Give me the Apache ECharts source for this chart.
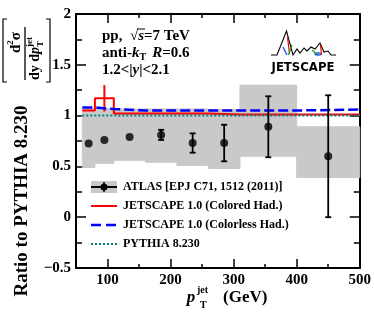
<!DOCTYPE html>
<html><head><meta charset="utf-8">
<script src="https://cdn.jsdelivr.net/npm/echarts@6/dist/echarts.min.js"></script>
<style>html,body{margin:0;padding:0;background:#fff}#c{width:374px;height:318px}</style>
</head><body><div id="c"></div>
<script>
// ---- data ----
const binLo = [60, 80, 110, 160, 210, 260, 310, 400];
const binHi = [80, 110, 160, 210, 260, 310, 400, 500];
const atlasX = [70, 95, 135, 185, 235, 285, 355, 450];
const atlasY = [0.725, 0.76, 0.79, 0.81, 0.73, 0.73, 0.89, 0.60];
const atlasStat = [0, 0, 0, 0.05, 0.095, 0.18, 0.30, 0.60];
const atlasSysLo = [0.49, 0.53, 0.56, 0.54, 0.51, 0.48, 0.60, 0.39];
const atlasSysHi = [1.07, 1.07, 1.065, 1.065, 1.065, 1.06, 1.30, 0.89];
const coloredY = [1.05, 1.17, 1.02, 1.02, 1.02, 1.01, 1.01, 1.01];
const coloredErr = [0, 0.13, 0, 0, 0, 0, 0, 0];
const colorlessY = [1.08, 1.065, 1.05, 1.05, 1.05, 1.05, 1.05, 1.06];
const pythiaY = [1, 1, 1, 1, 1, 1, 1, 1];
const xMajorTicks = [100, 200, 300, 400, 500];
const xMinorTicks = [50, 150, 250, 350, 450];
const legendLabels = ['ATLAS [EPJ C71, 1512 (2011)]', 'JETSCAPE 1.0 (Colored Had.)', 'JETSCAPE 1.0 (Colorless Had.)', 'PYTHIA 8.230'];

// ---- helpers ----
const SERIF = '"Liberation Serif", "Times New Roman", serif';
const B = s => 'bold ' + s + 'px ' + SERIF;
const BI = s => 'italic bold ' + s + 'px ' + SERIF;
const cv = document.createElement('canvas').getContext('2d');
function mw(t, f) { cv.font = f; return cv.measureText(t).width; }
function run(x, y, parts, out) {
  let cx = x;
  parts.forEach(p => {
    out.push({type: 'text', x: cx, y: y + (p.dy || 0), z: 50,
      style: {text: p.t, font: p.f, fill: '#000', textAlign: 'left', textVerticalAlign: 'middle'}});
    cx += mw(p.t, p.f) + (p.sp || 0);
  });
  return cx;
}
// vertical run (text reading bottom-to-top), starting at screen y0 going up
function vrun(x, y0, parts, out) {
  let cy = y0;
  parts.forEach(p => {
    const w = mw(p.t, p.f);
    out.push({type: 'text', x: x + (p.dx || 0), y: cy - w / 2, rotation: Math.PI / 2, z: 50,
      style: {text: p.t, font: p.f, fill: '#000', textAlign: 'center', textVerticalAlign: 'middle'}});
    if (!p.noAdv) cy -= w + (p.sp || 0);
  });
  return cy;
}
function stepData(ys) {
  const d = binLo.map((x, i) => [x, ys[i]]);
  d.push([binHi[binHi.length - 1], ys[ys.length - 1]]);
  return d;
}
function rtext(x, y, t, f) {
  return {type: 'text', x: x, y: y, rotation: Math.PI / 2, z: 50,
    style: {text: t, font: f, fill: '#000', textAlign: 'center', textVerticalAlign: 'middle'}};
}

const g = [];
// top-left annotation
let xe = run(102, 36, [{t: 'pp,  ', f: B(15)}, {t: '\u221A', f: B(15)}], g);
const sStart = xe;
xe = run(xe, 36, [{t: 's', f: BI(15)}], g);
g.push({type: 'line', z: 50, shape: {x1: sStart - 1, y1: 29, x2: xe + 1, y2: 29}, style: {stroke: '#000', lineWidth: 1}});
run(xe, 36, [{t: '=7 TeV', f: B(15)}], g);
run(102, 53, [{t: 'anti-', f: B(15)}, {t: 'k', f: BI(15)}, {t: 'T', f: B(10), dy: 4, sp: 6}, {t: 'R', f: BI(15)}, {t: '=0.6', f: B(15)}], g);
run(102, 70, [{t: '1.2<|', f: B(15)}, {t: 'y', f: BI(15)}, {t: '|<2.1', f: B(15)}], g);

// y-axis title
g.push(rtext(22, 201, 'Ratio to PYTHIA 8.230', B(19)));
// bracket fraction: numerator
vrun(16, 53, [{t: 'd', f: B(15)}, {t: '2', f: B(9), dx: -5}, {t: '\u03C3', f: B(15)}], g);
g.push({type: 'line', z: 50, shape: {x1: 25, y1: 27, x2: 25, y2: 80}, style: {stroke: '#000', lineWidth: 1.3}});
// denominator
vrun(35, 80, [{t: 'dy', f: B(14), sp: 3.5}, {t: 'd', f: B(14)}, {t: 'p', f: BI(14)}, {t: 'T', f: B(9), dx: 6, noAdv: true}, {t: 'jet', f: B(9), dx: -5}], g);
g.push({type: 'polyline', z: 50, shape: {points: [[7, 82], [3, 82], [3, 19], [7, 19]]}, style: {stroke: '#000', lineWidth: 1.2, fill: null}});
g.push({type: 'polyline', z: 50, shape: {points: [[46, 82], [50, 82], [50, 19], [46, 19]]}, style: {stroke: '#000', lineWidth: 1.2, fill: null}});

// x-axis title
g.push({type: 'text', x: 191, y: 298, z: 50, style: {text: 'p', font: BI(17), fill: '#000', textAlign: 'center', textVerticalAlign: 'middle'}});
g.push({type: 'text', x: 197, y: 290, z: 50, style: {text: 'jet', font: B(10), fill: '#000', textAlign: 'left', textVerticalAlign: 'middle'}});
g.push({type: 'text', x: 200, y: 305, z: 50, style: {text: 'T', font: B(10), fill: '#000', textAlign: 'left', textVerticalAlign: 'middle'}});
g.push({type: 'text', x: 223, y: 298, z: 50, style: {text: '(GeV)', font: B(17), fill: '#000', textAlign: 'left', textVerticalAlign: 'middle'}});

// legend
const ly = [187, 206, 225, 244];
g.push({type: 'rect', z: 40, shape: {x: 91, y: 181, width: 26, height: 12}, style: {fill: '#c9c9c9'}});
g.push({type: 'line', z: 41, shape: {x1: 91, y1: ly[0], x2: 117, y2: ly[0]}, style: {stroke: '#000', lineWidth: 2}});
g.push({type: 'line', z: 41, shape: {x1: 104, y1: ly[0] - 5, x2: 104, y2: ly[0] + 5}, style: {stroke: '#000', lineWidth: 1.5}});
g.push({type: 'circle', z: 42, shape: {cx: 104, cy: ly[0], r: 3.5}, style: {fill: '#000'}});
g.push({type: 'line', z: 41, shape: {x1: 91, y1: ly[1], x2: 117, y2: ly[1]}, style: {stroke: '#ff0000', lineWidth: 2}});
g.push({type: 'line', z: 41, shape: {x1: 91, y1: ly[2], x2: 117, y2: ly[2]}, style: {stroke: '#0000ff', lineWidth: 2.5, lineDash: [10, 5]}});
g.push({type: 'line', z: 41, shape: {x1: 91, y1: ly[3], x2: 117, y2: ly[3]}, style: {stroke: '#008080', lineWidth: 2, lineDash: [2, 2]}});
legendLabels.forEach((t, i) => g.push({type: 'text', x: 123, y: ly[i], z: 50,
  style: {text: t, font: B(12), fill: '#000', textAlign: 'left', textVerticalAlign: 'middle'}}));

// JETSCAPE logo
g.push({type: 'polyline', z: 50, shape: {points: [[271, 55], [277, 55], [286.5, 31], [293, 55], [297, 49], [300, 53], [304, 48], [307, 51], [311, 47], [315, 49], [320, 43], [324, 52], [328, 51], [331, 55], [336, 55]]}, style: {stroke: '#000', lineWidth: 1.1, fill: null}});
g.push({type: 'line', z: 51, shape: {x1: 287.5, y1: 37, x2: 289.5, y2: 54}, style: {stroke: '#ff0000', lineWidth: 1.2}});
g.push({type: 'line', z: 51, shape: {x1: 292, y1: 45, x2: 288.5, y2: 55}, style: {stroke: '#1a9a1a', lineWidth: 1.2}});
g.push({type: 'line', z: 51, shape: {x1: 283, y1: 47, x2: 287, y2: 55}, style: {stroke: '#3060ff', lineWidth: 1.5}});
g.push({type: 'line', z: 51, shape: {x1: 320.5, y1: 45, x2: 321.5, y2: 55}, style: {stroke: '#ff0000', lineWidth: 1.2}});
g.push({type: 'line', z: 51, shape: {x1: 312, y1: 50, x2: 318, y2: 55}, style: {stroke: '#1a9a1a', lineWidth: 1.2}});
g.push({type: 'ellipse', z: 50, shape: {cx: 318, cy: 54, rx: 4, ry: 2}, style: {fill: '#5080ff'}});
g.push({type: 'text', x: 303, y: 68, z: 50, style: {text: 'JETSCAPE', font: 'bold 13px "Liberation Sans Narrow", "DejaVu Sans Condensed", sans-serif', fill: '#000', textAlign: 'center', textVerticalAlign: 'middle'}});

// ---- chart ----
const chart = echarts.init(document.getElementById('c'), null, {renderer: 'canvas'});
const axisFont = {color: '#000', fontFamily: SERIF, fontWeight: 'bold', fontSize: 15};
function xAx(pos, vals, len, line, labels) {
  return {type: 'value', min: 50, max: 500, position: pos, gridIndex: 0,
    axisLine: {show: line, onZero: false, lineStyle: {color: '#000', width: 2}},
    axisTick: {show: true, inside: true, length: len, customValues: vals, lineStyle: {color: '#000', width: 1.5}},
    axisLabel: labels ? Object.assign({customValues: xMajorTicks, margin: 5}, axisFont) : {show: false},
    splitLine: {show: false}};
}
function yAx(pos, labels) {
  return {type: 'value', min: -0.5, max: 2, interval: 0.5, position: pos,
    axisLine: {show: true, onZero: false, lineStyle: {color: '#000', width: 2}},
    axisTick: {show: true, inside: true, length: 10, lineStyle: {color: '#000', width: 1.5}},
    minorTick: {show: true, splitNumber: 2, length: 6, lineStyle: {color: '#000', width: 1.5}},
    axisLabel: labels ? Object.assign({margin: 5, formatter: v => v < 0 ? '\u2212' + Math.abs(v) : String(v)}, axisFont) : {show: false},
    splitLine: {show: false}};
}
const bandData = binLo.map((x, i) => [x, binHi[i], atlasSysLo[i], atlasSysHi[i]]);
const errData = atlasX.map((x, i) => [x, atlasY[i], atlasStat[i]]);
const redErrData = binLo.map((x, i) => [(x + binHi[i]) / 2, coloredY[i], coloredErr[i]]).filter(d => d[2] > 0);

function errRender(color, cap, lw) {
  return function (params, api) {
    const x = api.value(0), y = api.value(1), e = api.value(2);
    if (!(e > 0)) return null;
    const t = api.coord([x, y + e]), b = api.coord([x, y - e]);
    const ch = [{type: 'line', shape: {x1: t[0], y1: t[1], x2: b[0], y2: b[1]}, style: {stroke: color, lineWidth: lw}}];
    if (cap > 0) {
      ch.push({type: 'line', shape: {x1: t[0] - cap, y1: t[1], x2: t[0] + cap, y2: t[1]}, style: {stroke: color, lineWidth: lw}});
      ch.push({type: 'line', shape: {x1: b[0] - cap, y1: b[1], x2: b[0] + cap, y2: b[1]}, style: {stroke: color, lineWidth: lw}});
    }
    return {type: 'group', children: ch};
  };
}

chart.setOption({
  animation: false,
  backgroundColor: '#fff',
  grid: {left: 76, right: 11, top: 14, bottom: 50, containLabel: false},
  xAxis: [xAx('bottom', xMajorTicks, 9, true, true), xAx('bottom', xMinorTicks, 4, false, false),
          xAx('top', xMajorTicks, 9, true, false), xAx('top', xMinorTicks, 4, false, false)],
  yAxis: [yAx('left', true), yAx('right', false)],
  series: [
    {type: 'custom', name: 'sys', z: 1, data: bandData, encode: {x: [0, 1], y: [2, 3]},
      renderItem: (params, api) => {
        const p0 = api.coord([api.value(0), api.value(3)]);
        const p1 = api.coord([api.value(1), api.value(2)]);
        return {type: 'rect', shape: {x: p0[0], y: p0[1], width: p1[0] - p0[0], height: p1[1] - p0[1]},
          style: {fill: '#c9c9c9', stroke: '#c9c9c9', lineWidth: 1}};
      }},
    {type: 'line', name: 'Colored', z: 3, step: 'end', data: stepData(coloredY), showSymbol: false,
      lineStyle: {color: '#ff0000', width: 2}},
    {type: 'custom', name: 'ColoredErr', z: 3, data: redErrData, encode: {x: 0, y: 1}, renderItem: errRender('#ff0000', 0, 2)},
    {type: 'line', name: 'Pythia', z: 4, data: [[binLo[0], pythiaY[0]]].concat(binHi.map((x, i) => [x, pythiaY[i]])), showSymbol: false,
      lineStyle: {color: '#008080', width: 2, type: [2, 2]}},
    {type: 'line', name: 'Colorless', z: 5, step: 'end', data: stepData(colorlessY), showSymbol: false,
      lineStyle: {color: '#0000ff', width: 2.5, type: [10, 4]}},
    {type: 'custom', name: 'AtlasErr', z: 6, data: errData, encode: {x: 0, y: 1}, renderItem: errRender('#000', 3, 1.8)},
    {type: 'scatter', name: 'ATLAS', z: 7, data: atlasX.map((x, i) => [x, atlasY[i]]), symbol: 'circle', symbolSize: 8,
      itemStyle: {color: '#000'}}
  ],
  graphic: {elements: g}
});
</script>
</body></html>
